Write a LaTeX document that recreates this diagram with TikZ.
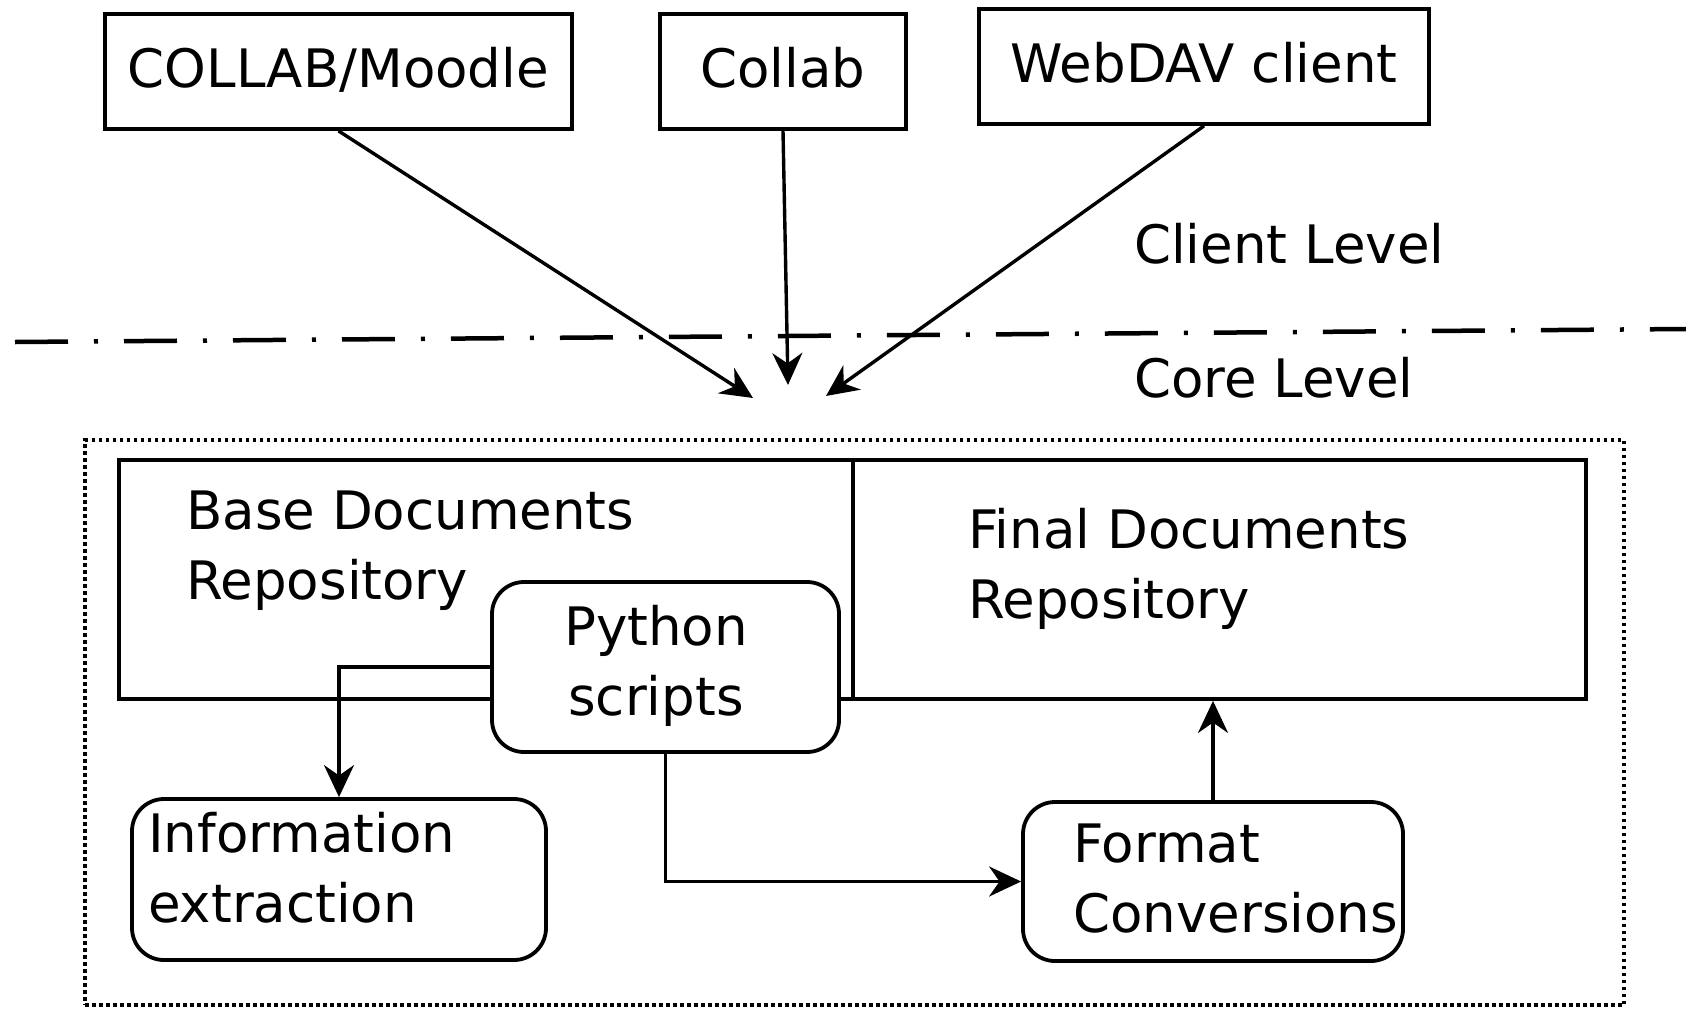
\documentclass[tikz,border=0pt]{standalone}
\usepackage{fontspec}
\setmainfont{DejaVu Sans}
\usetikzlibrary{arrows.meta,calc}
\begin{document}
\begin{tikzpicture}[x=1pt,y=-1pt,
  font=\fontsize{53}{70}\selectfont,
  clientbox/.style={draw, line width=3.8pt, inner sep=0pt, fill=white, text depth=8pt},
  repo/.style={draw, line width=3.8pt, inner sep=0pt},
  rbox/.style={draw, line width=3.8pt, rounded corners=32pt, fill=white, inner sep=0pt},
  txt/.style={inner sep=0pt, align=left, anchor=west},
  arr/.style={line width=3.4pt, -{Stealth[length=32pt,width=30pt]}},
  dashdotline/.style={line width=4.5pt, dash pattern=on 53pt off 26pt on 4pt off 26pt},
  dotbox/.style={draw, line width=4pt, dash pattern=on 3.5pt off 3.5pt, inner sep=0pt}]
\useasboundingbox (0,0) rectangle (1686,1009);

% client level boxes
\node[clientbox, minimum width=467pt, minimum height=115pt] (moodle) at (338.5,71.5) {COLLAB/Moodle};
\node[clientbox, minimum width=246pt, minimum height=115pt] (collab) at (783,71.5) {Collab};
\node[clientbox, minimum width=450pt, minimum height=115pt] (webdav) at (1204,66.5) {WebDAV client};

% level separator
\coordinate (dl) at (15,342);
\coordinate (dr) at (1686,329);
\draw[dashdotline] (dl) -- (dr);
\node[txt] (clientlvl) at (1134,244) {Client Level};
\node[txt] (corelvl) at (1134,378) {Core Level};

% arrows into core
\coordinate (t1) at (753,398);
\coordinate (t2) at (788,385);
\coordinate (t3) at (826,396);
\draw[arr] (moodle.south) -- (t1);
\draw[arr] (collab.south) -- (t2);
\draw[arr] (webdav.south) -- (t3);

% core
\node[dotbox, minimum width=1539pt, minimum height=565pt] (core) at (854.5,722.5) {};
\node[repo, minimum width=734pt, minimum height=239pt] (base) at (486,579.5) {};
\node[repo, minimum width=733pt, minimum height=239pt] (final) at (1219.5,579.5) {};
\node[txt] (baset) at (186,551) {Base Documents\\Repository};
\node[txt] (finalt) at (968,569) {Final Documents\\Repository};

\node[rbox, minimum width=414pt, minimum height=161pt] (info) at (339,879.5) {};
\node[txt] (infot) at (148,868) {Information\\extraction};
\node[rbox, minimum width=380pt, minimum height=159pt] (fmt) at (1213,881.5) {};
\node[txt] (fmtt) at (1073,878.5) {Format\\Conversions};

% Python box and its arrows
\draw[arr] (665.5,667) ++(-173.5,0) -| (info.north);
\node[rbox, minimum width=347pt, minimum height=170pt] (py) at (665.5,667) {};
\node[inner sep=0pt, align=center] (pyt) at (656,666) {Python\\scripts};
\draw[arr] (py.south) |- (fmt.west);
\draw[arr] (fmt.north) -- (fmt.north |- final.south);
\end{tikzpicture}
\end{document}
